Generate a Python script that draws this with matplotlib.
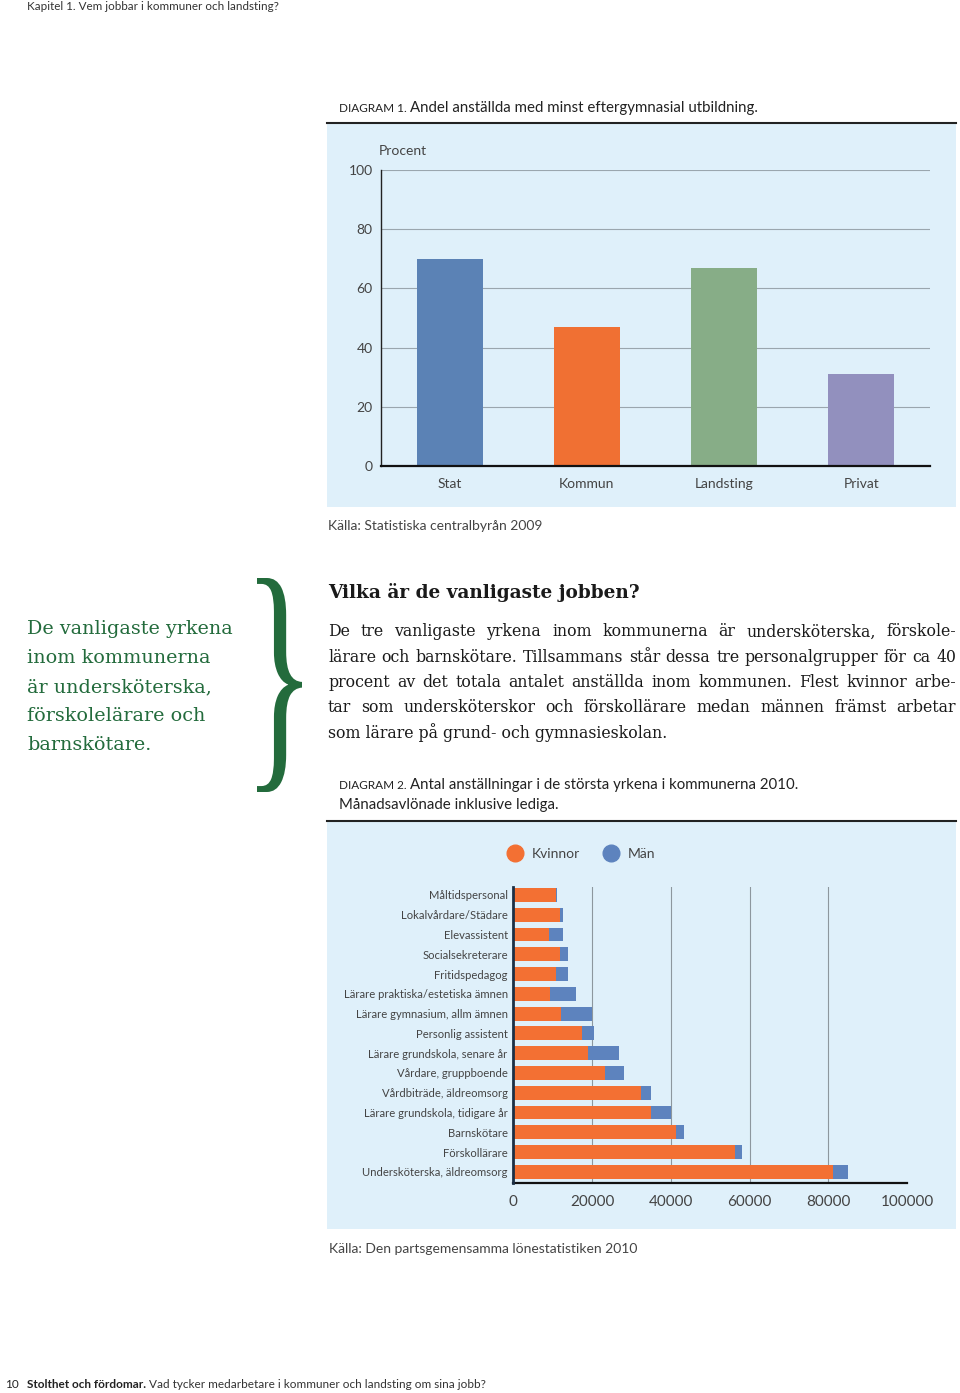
import matplotlib
matplotlib.use("Agg")
import numpy as np
import matplotlib.pyplot as plt
from matplotlib.patches import Rectangle, PathPatch
from matplotlib.lines import Line2D
from matplotlib.textpath import TextPath
from matplotlib.font_manager import FontProperties
from matplotlib.transforms import Affine2D

# --- data -------------------------------------------------------------
sectors = ["Stat", "Kommun", "Landsting", "Privat"]
share_higher_edu = [70, 47, 67, 31]
sector_colors = ["#5b82b5", "#f07033", "#87ad87", "#9290be"]
pct_ticks = [0, 20, 40, 60, 80, 100]

jobs = ["Måltidspersonal", "Lokalvårdare/Städare", "Elevassistent",
        "Socialsekreterare", "Fritidspedagog", "Lärare praktiska/estetiska ämnen",
        "Lärare gymnasium, allm ämnen", "Personlig assistent",
        "Lärare grundskola, senare år", "Vårdare, gruppboende",
        "Vårdbiträde, äldreomsorg", "Lärare grundskola, tidigare år",
        "Barnskötare", "Förskollärare", "Undersköterska, äldreomsorg"]
women = [10800, 11900, 9100, 11900, 10800, 9300, 12100, 17400,
         18900, 23300, 32400, 35000, 41200, 56300, 81100]
men = [400, 600, 3600, 1900, 3100, 6700, 7900, 3200,
       8000, 4700, 2700, 5100, 2100, 1800, 3900]
count_ticks = [0, 20000, 40000, 60000, 80000, 100000]

# --- page setup ---------------------------------------------------------
W, H = 960, 1393
fig = plt.figure(figsize=(W / 100, H / 100), dpi=100)
fig.patch.set_facecolor("white")

SANS = "Lato"
SERIF = "DejaVu Serif"
GREY = "#444444"
GREEN = "#236b3c"
PANEL = "#dff0fa"


def fx(x):
    return x / W


def fy(y):
    return 1 - y / H


def rect(x0, y0, x1, y1):
    return [fx(x0), fy(y1), (x1 - x0) / W, (y1 - y0) / H]


def hline(x0, x1, y, lw=1.5, color="#222222"):
    fig.add_artist(Line2D([fx(x0), fx(x1)], [fy(y), fy(y)], color=color, lw=lw))


def panel(x0, y0, x1, y1):
    fig.add_artist(Rectangle((fx(x0), fy(y1)), (x1 - x0) / W, (y1 - y0) / H,
                             transform=fig.transFigure, facecolor=PANEL,
                             edgecolor="none", zorder=0))


renderer = fig.canvas.get_renderer()


def caption(x, y, label, rest, size=10.8):
    t = fig.text(fx(x), fy(y), label, fontsize=size * 0.78, family=SANS,
                 color="#222222", va="baseline")
    w = t.get_window_extent(renderer).width
    fig.text(fx(x + w + 3), fy(y), rest, fontsize=size, family=SANS,
             color="#222222", va="baseline")


# header / footer
fig.text(fx(27), fy(6), "Kapitel 1. Vem jobbar i kommuner och landsting?",
         fontsize=8.4, family=SANS, color="#333333", va="center")
fig.text(fx(5), fy(1384), "10", fontsize=8.5, family=SANS, color="#222222", va="center")
t = fig.text(fx(27), fy(1384), "Stolthet och fördomar.", fontsize=8.5, family=SANS,
             weight="bold", color="#222222", va="center")
w = t.get_window_extent(renderer).width
fig.text(fx(27 + w + 3), fy(1384),
         "Vad tycker medarbetare i kommuner och landsting om sina jobb?",
         fontsize=8.5, family=SANS, color="#333333", va="center")

# --- diagram 1 ----------------------------------------------------------
caption(339, 112, "DIAGRAM 1.", "Andel anställda med minst eftergymnasial utbildning.")
hline(327, 956, 123)
panel(327, 124, 956, 507)

ax1 = fig.add_axes(rect(381, 170, 930, 466))
ax1.set_facecolor("none")
x = np.arange(len(sectors))
ax1.bar(x, share_higher_edu, width=0.48, color=sector_colors, zorder=3)
ax1.set_xlim(-0.5, 3.5)
ax1.set_ylim(0, 100)
ax1.set_yticks(pct_ticks)
ax1.set_xticks(x, sectors)
ax1.grid(axis="y", color="#9aa6ae", lw=0.8, zorder=0)
ax1.tick_params(length=0, labelsize=10, labelcolor=GREY)
ax1.tick_params(axis="y", pad=6)
ax1.tick_params(axis="x", pad=9)
for lab in ax1.get_xticklabels() + ax1.get_yticklabels():
    lab.set_family(SANS)
for s in ["top", "right"]:
    ax1.spines[s].set_visible(False)
ax1.spines["left"].set_color("#222222")
ax1.spines["left"].set_linewidth(1.0)
ax1.spines["bottom"].set_color("#111111")
ax1.spines["bottom"].set_linewidth(1.6)
ax1.spines["bottom"].set_zorder(4)
fig.text(fx(379), fy(151), "Procent", fontsize=10, family=SANS, color=GREY, va="center")

fig.text(fx(328), fy(526), "Källa: Statistiska centralbyrån 2009", fontsize=10,
         family=SANS, color=GREY, va="center")

# --- side quote with brace ------------------------------------------------
quote = ["De vanligaste yrkena", "inom kommunerna", "är undersköterska,",
         "förskolelärare och", "barnskötare."]
for i, line in enumerate(quote):
    fig.text(fx(27), fy(629 + i * 29), line, fontsize=13.8, family=SERIF,
             color=GREEN, va="center")

brace = TextPath((0, 0), "}", size=100, prop=FontProperties(family="Liberation Serif"))
bb = brace.get_extents()
tr = (Affine2D().translate(-bb.x0, -bb.y0)
      .scale((302 - 257) / bb.width / W, (792 - 578) / bb.height / H)
      .translate(fx(257), fy(792)))
fig.add_artist(PathPatch(tr.transform_path(brace), transform=fig.transFigure,
                         facecolor=GREEN, edgecolor="none"))

# --- body text ----------------------------------------------------------
fig.text(fx(328), fy(593), "Vilka är de vanligaste jobben?", fontsize=13.3,
         family=SERIF, weight="bold", color="#1a1a1a", va="center")

body = ["De tre vanligaste yrkena inom kommunerna är undersköterska, förskole-",
        "lärare och barnskötare. Tillsammans står dessa tre personalgrupper för ca 40",
        "procent av det totala antalet anställda inom kommunen. Flest kvinnor arbe-",
        "tar som undersköterskor och förskollärare medan männen främst arbetar",
        "som lärare på grund- och gymnasieskolan."]
for i, line in enumerate(body):
    y = fy(632 + i * 25.2)
    if i == len(body) - 1:
        fig.text(fx(328), y, line, fontsize=11.3, family=SERIF, color="#1a1a1a", va="center")
        continue
    words = line.split()
    ts = [fig.text(0, y, wd, fontsize=11.3, family=SERIF, color="#1a1a1a", va="center")
          for wd in words]
    ws = [t.get_window_extent(renderer).width for t in ts]
    gap = (956 - 328 - sum(ws)) / (len(words) - 1)
    xpos = 328
    for t, wd in zip(ts, ws):
        t.set_x(fx(xpos))
        xpos += wd + gap

# --- diagram 2 ----------------------------------------------------------
caption(339, 789, "DIAGRAM 2.", "Antal anställningar i de största yrkena i kommunerna 2010.")
fig.text(fx(339), fy(805), "Månadsavlönade inklusive lediga.", fontsize=10.8,
         family=SANS, color="#222222", va="center")
hline(327, 956, 821)
panel(327, 822, 956, 1229)

ax2 = fig.add_axes(rect(513.3, 887, 907, 1183))
ax2.set_facecolor("none")
y = np.arange(len(jobs))
ax2.barh(y, women, height=0.7, color="#f37033", label="Kvinnor", zorder=3)
ax2.barh(y, men, left=women, height=0.7, color="#5d83be", label="Män", zorder=3)
ax2.set_xlim(0, 100000)
ax2.set_ylim(len(jobs) - 0.44, -0.4)
ax2.set_xticks(count_ticks)
ax2.set_xticklabels([str(v) for v in count_ticks])
ax2.set_yticks(y, jobs)
ax2.grid(axis="x", color="#8d979e", lw=0.8, zorder=0)
ax2.get_xgridlines()[-1].set_visible(False)
ax2.tick_params(length=0, labelcolor=GREY)
ax2.tick_params(axis="y", labelsize=8.1, pad=4)
ax2.tick_params(axis="x", labelsize=11, pad=9)
for lab in ax2.get_xticklabels() + ax2.get_yticklabels():
    lab.set_family(SANS)
for s in ["top", "right"]:
    ax2.spines[s].set_visible(False)
ax2.spines["left"].set_color("#1c2f45")
ax2.spines["left"].set_linewidth(2)
ax2.spines["bottom"].set_color("#111111")
ax2.spines["bottom"].set_linewidth(1.6)
ax2.spines["left"].set_zorder(4)

handles = [Line2D([], [], marker="o", ls="none", markersize=12, color="#f37033"),
           Line2D([], [], marker="o", ls="none", markersize=12, color="#5d83be")]
fig.legend(handles, ["Kvinnor", "Män"], loc="center", bbox_to_anchor=(fx(578), fy(854)),
           ncol=2, frameon=False, handletextpad=0.2, columnspacing=1.2,
           prop={"family": SANS, "size": 10}, labelcolor=GREY)

fig.text(fx(329), fy(1249), "Källa: Den partsgemensamma lönestatistiken 2010",
         fontsize=10, family=SANS, color=GREY, va="center")

fig.savefig("out.png", dpi=100, facecolor="white")
